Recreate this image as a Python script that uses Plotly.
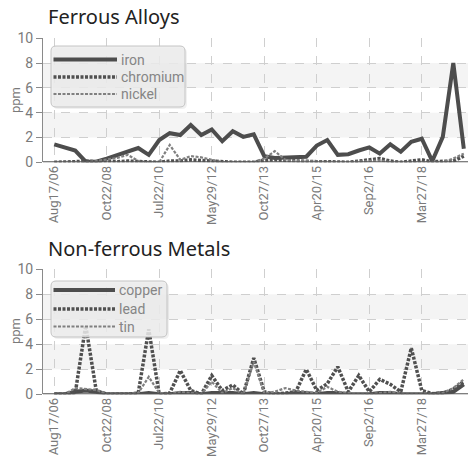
import plotly.graph_objects as go

# ---------------- data ----------------
tick_labels = ["Aug17/06", "Oct22/08", "Jul22/10", "May29/12",
               "Oct27/13", "Apr20/15", "Sep2/16", "Mar27/18"]
tick_index = [0, 5, 10, 15, 20, 25, 30, 35]

iron = [1.45, 1.2, 0.95, 0.05, 0.05, 0.3, 0.6, 0.9, 1.15, 0.6,
        1.8, 2.35, 2.2, 3.0, 2.2, 2.65, 1.7, 2.5, 2.05, 2.25,
        0.5, 0.35, 0.4, 0.4, 0.45, 1.35, 1.8, 0.6, 0.65, 0.95,
        1.2, 0.7, 1.45, 0.85, 1.65, 1.9, 0.1, 2.05, 8.0, 1.1]
chromium = [0, 0, 0.05, 0.1, 0.05, 0.1, 0.05, 0.1, 0.05, 0,
            0, 0.1, 0.1, 0.2, 0.15, 0.1, 0, 0, 0, 0,
            0.15, 0.2, 0.15, 0.1, 0.1, 0.05, 0.05, 0, 0, 0.1,
            0.2, 0.3, 0.1, 0, 0.1, 0.2, 0.05, 0.05, 0.1, 0.5]
nickel = [0, 0, 0, 0, 0.1, 0.2, 0.35, 0.6, 0.1, 0,
          0, 1.4, 0.2, 0.5, 0.4, 0.2, 0, 0, 0, 0,
          0.3, 0.9, 0.2, 0.1, 0.1, 0.05, 0, 0, 0, 0.05,
          0.1, 0.15, 0, 0, 0, 0.05, 0, 0, 0.3, 0.7]

copper = [0, 0, 0.2, 0.3, 0.2, 0, 0, 0, 0, 0.1,
          0, 0, 0.1, 0.1, 0, 0.1, 0.1, 0.1, 0, 0.1,
          0, 0, 0, 0.1, 0.1, 0, 0.1, 0.1, 0, 0,
          0, 0.1, 0.1, 0, 0, 0, 0, 0.1, 0.2, 0.8]
lead = [0, 0, 0.1, 5.5, 0.3, 0, 0, 0, 0.1, 5.2,
        0, 0.1, 1.9, 0.3, 0, 1.5, 0.3, 0.75, 0, 2.9,
        0.2, 0, 0.1, 0.2, 2.0, 0.3, 0.85, 2.2, 0.2, 1.5,
        0.2, 1.2, 0.8, 0.2, 3.7, 0.3, 0.05, 0.1, 0.4, 1.0]
tin = [0, 0, 0.5, 0.4, 0.35, 0.05, 0, 0, 0.1, 1.4,
       0.1, 0, 0.2, 0.1, 0, 1.0, 0.1, 0.5, 0, 2.6,
       0.1, 0.2, 0.5, 0.3, 0.2, 0.1, 0.6, 0.2, 0.1, 0.1,
       0, 0.1, 0.2, 0.05, 0.1, 0.1, 0, 0.1, 0.5, 1.2]

top_names = ["iron", "chromium", "nickel"]
bot_names = ["copper", "lead", "tin"]

x = list(range(len(iron)))

# ---------------- style ----------------
W, H = 469, 459
ML, MR = 43, 1
PW = W - ML - MR
TICKFONT = "Roboto, Noto Sans, sans-serif"
TITLE_FONT = "Noto Sans, DejaVu Sans, sans-serif"
GRID = "#cfcfcf"
TXT = "#7a7a7a"


def py(p):
    return 1 - p / H


def px(p):
    return (p - ML) / PW


styles = [
    dict(color="#4d4d4d", width=4, dash="solid"),
    dict(color="#505050", width=3.5, dash="3px,1.5px"),
    dict(color="#808080", width=2.2, dash="3px,1.5px"),
]

fig = go.Figure()
for name, vals, st in zip(top_names, [iron, chromium, nickel], styles):
    fig.add_trace(go.Scatter(x=x, y=vals, name=name, mode="lines",
                             line=st, xaxis="x", yaxis="y", showlegend=False))
for name, vals, st in zip(bot_names, [copper, lead, tin], styles):
    fig.add_trace(go.Scatter(x=x, y=vals, name=name, mode="lines",
                             line=st, xaxis="x2", yaxis="y2", showlegend=False))

top_dom = [py(162.3), py(38.3)]
bot_dom = [py(394.3), py(269.3)]

xa = dict(range=[-1.07, 39.4], tickmode="array", tickvals=tick_index, ticktext=tick_labels,
          tickangle=-90, showgrid=True, gridcolor=GRID, griddash="dash", gridwidth=1,
          zeroline=False, showline=False, ticks="", automargin=False,
          tickfont=dict(family=TICKFONT, size=13, color=TXT), domain=[0, 1])
ya = dict(range=[0, 10], tickvals=[0, 2, 4, 6, 8, 10], showgrid=True, gridcolor=GRID,
          griddash="dash", gridwidth=1, zeroline=False, showline=True, linecolor="#8a8a8a",
          linewidth=1, ticks="outside", ticklen=6, tickcolor="#8a8a8a", automargin=False,
          tickfont=dict(family=TICKFONT, size=14, color=TXT))

fig.update_layout(
    width=W, height=H,
    margin=dict(l=ML, r=MR, t=0, b=0),
    paper_bgcolor="white", plot_bgcolor="white",
    xaxis=dict(xa, anchor="y"),
    yaxis=dict(ya, domain=top_dom, anchor="x"),
    xaxis2=dict(xa, anchor="y2"),
    yaxis2=dict(ya, domain=bot_dom, anchor="x2"),
    showlegend=False,
)

shapes = []
for yr, xr in (("y", "x"), ("y2", "x2")):
    for lo, hi in ((2, 4), (6, 8)):
        shapes.append(dict(type="rect", xref=xr + " domain", yref=yr, x0=0, x1=1, y0=lo, y1=hi,
                           fillcolor="#f4f4f4", line=dict(width=0), layer="below"))
    shapes.append(dict(type="line", xref=xr + " domain", yref=yr, x0=0, x1=1, y0=0, y1=0,
                       line=dict(color="#555555", width=2), layer="above"))


def rounded_rect(x0, y0, x1, y1, r):
    pts = [("M", x0 + r, y0), ("L", x1 - r, y0), ("Q", x1, y0, x1, y0 + r),
           ("L", x1, y1 - r), ("Q", x1, y1, x1 - r, y1), ("L", x0 + r, y1),
           ("Q", x0, y1, x0, y1 - r), ("L", x0, y0 + r), ("Q", x0, y0, x0 + r, y0)]
    out = []
    for p in pts:
        cmd, coords = p[0], p[1:]
        s = []
        for i in range(0, len(coords), 2):
            s.append(f"{px(coords[i]):.5f},{py(coords[i + 1]):.5f}")
        out.append(cmd + " ".join(s))
    return " ".join(out) + " Z"


annotations = []
legends = [
    # box (x0, y0, x1, y1), rows y, line x0, x1, text x, names
    ((51, 46, 185, 107), [59.5, 77, 94], 53.5, 117, 119, top_names),
    ((51, 281, 167, 337), [290, 309, 326.5], 53.5, 115, 117, bot_names),
]
for (bx0, by0, bx1, by1), rows, lx0, lx1, tx, names in legends:
    shapes.append(dict(type="path", xref="paper", yref="paper",
                       path=rounded_rect(bx0 + 2, by0 + 2, bx1 + 2, by1 + 2, 5),
                       fillcolor="rgba(0,0,0,0.06)", line=dict(width=0), layer="above"))
    shapes.append(dict(type="path", xref="paper", yref="paper",
                       path=rounded_rect(bx0, by0, bx1, by1, 5),
                       fillcolor="rgba(236,236,236,0.85)",
                       line=dict(color="#c4c4c4", width=1), layer="above"))
    for ry, name, st in zip(rows, names, styles):
        shapes.append(dict(type="line", xref="paper", yref="paper",
                           x0=px(lx0), x1=px(lx1), y0=py(ry), y1=py(ry),
                           line=dict(color=st["color"], width=st["width"], dash=st["dash"]),
                           layer="above"))
        annotations.append(dict(text=name, x=px(tx), y=py(ry), xref="paper", yref="paper",
                                xanchor="left", yanchor="middle", showarrow=False,
                                font=dict(family=TICKFONT, size=14, color="#858585")))

fig.update_layout(shapes=shapes)

annotations += [
    dict(text="Ferrous Alloys", x=px(46), y=py(16), xref="paper", yref="paper",
         xanchor="left", yanchor="middle", showarrow=False,
         font=dict(family=TITLE_FONT, size=20, color="#222222")),
    dict(text="Non-ferrous Metals", x=px(46), y=py(248), xref="paper", yref="paper",
         xanchor="left", yanchor="middle", showarrow=False,
         font=dict(family=TITLE_FONT, size=20, color="#222222")),
    dict(text="ppm", x=px(15), y=py(100), xref="paper", yref="paper", textangle=-90,
         xanchor="center", yanchor="middle", showarrow=False,
         font=dict(family=TICKFONT, size=13, color=TXT)),
    dict(text="ppm", x=px(15), y=py(331), xref="paper", yref="paper", textangle=-90,
         xanchor="center", yanchor="middle", showarrow=False,
         font=dict(family=TICKFONT, size=13, color=TXT)),
]
fig.update_layout(annotations=annotations)

fig.write_html("out.html", config={"displayModeBar": False},
               post_script="document.body.style.margin='0px';")
